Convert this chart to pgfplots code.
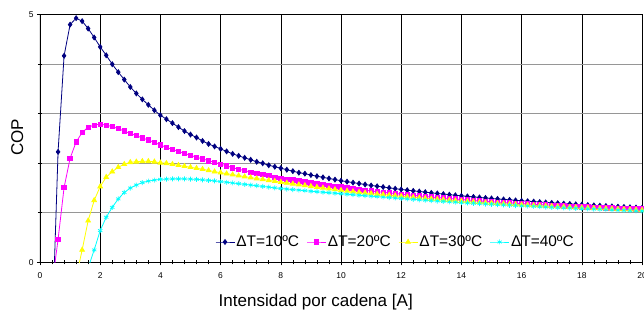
\documentclass[border=0pt]{standalone}
\usepackage{fontspec}
\setmainfont{Liberation Sans}
\usepackage{pgfplots}
\usepackage{pgfplotstable}
\pgfplotsset{compat=1.18}
\definecolor{cNavy}{RGB}{0,0,128}
\definecolor{cMag}{RGB}{255,0,255}
\definecolor{cYel}{RGB}{255,255,0}
\definecolor{cCya}{RGB}{0,255,255}
\definecolor{cGrid}{RGB}{150,150,150}

\pgfplotstableread{
x y
0.4 -1.49
0.6 2.23
0.8 4.17
1.0 4.80
1.2 4.93
1.4 4.87
1.6 4.72
1.8 4.54
2.0 4.35
2.2 4.18
2.4 4.00
2.6 3.84
2.8 3.69
3.0 3.54
3.2 3.41
3.4 3.29
3.6 3.18
3.8 3.07
4.0 2.97
4.2 2.89
4.4 2.81
4.6 2.73
4.8 2.65
5.0 2.58
5.2 2.52
5.4 2.45
5.6 2.39
5.8 2.34
6.0 2.29
6.2 2.24
6.4 2.19
6.6 2.15
6.8 2.11
7.0 2.07
7.2 2.03
7.4 2.00
7.6 1.96
7.8 1.93
8.0 1.90
8.2 1.87
8.4 1.84
8.6 1.81
8.8 1.79
9.0 1.762
9.2 1.739
9.4 1.716
9.6 1.693
9.8 1.670
10.0 1.647
10.2 1.628
10.4 1.609
10.6 1.590
10.8 1.571
11.0 1.552
11.2 1.536
11.4 1.520
11.6 1.504
11.8 1.487
12.0 1.471
12.2 1.457
12.4 1.443
12.6 1.430
12.8 1.416
13.0 1.402
13.2 1.390
13.4 1.378
13.6 1.366
13.8 1.354
14.0 1.342
14.2 1.331
14.4 1.321
14.6 1.310
14.8 1.300
15.0 1.289
15.2 1.280
15.4 1.270
15.6 1.261
15.8 1.251
16.0 1.242
16.2 1.234
16.4 1.226
16.6 1.217
16.8 1.209
17.0 1.201
17.2 1.194
17.4 1.186
17.6 1.179
17.8 1.171
18.0 1.164
18.2 1.157
18.4 1.150
18.6 1.144
18.8 1.137
19.0 1.130
19.2 1.124
19.4 1.118
19.6 1.112
19.8 1.106
20.0 1.100
}\tabA

\pgfplotstableread{
x y
0.4 -0.46
0.6 0.46
0.8 1.51
1.0 2.10
1.2 2.43
1.4 2.62
1.6 2.73
1.8 2.77
2.0 2.79
2.2 2.77
2.4 2.74
2.6 2.70
2.8 2.65
3.0 2.60
3.2 2.56
3.4 2.51
3.6 2.47
3.8 2.42
4.0 2.37
4.2 2.32
4.4 2.28
4.6 2.24
4.8 2.20
5.0 2.16
5.2 2.12
5.4 2.09
5.6 2.05
5.8 2.02
6.0 1.98
6.2 1.95
6.4 1.91
6.6 1.88
6.8 1.85
7.0 1.82
7.2 1.80
7.4 1.77
7.6 1.75
7.8 1.72
8.0 1.70
8.2 1.68
8.4 1.66
8.6 1.64
8.8 1.62
9.0 1.600
9.2 1.584
9.4 1.568
9.6 1.552
9.8 1.536
10.0 1.520
10.2 1.504
10.4 1.488
10.6 1.472
10.8 1.456
11.0 1.440
11.2 1.427
11.4 1.414
11.6 1.402
11.8 1.389
12.0 1.376
12.2 1.364
12.4 1.352
12.6 1.341
12.8 1.329
13.0 1.317
13.2 1.307
13.4 1.297
13.6 1.287
13.8 1.277
14.0 1.267
14.2 1.258
14.4 1.249
14.6 1.240
14.8 1.231
15.0 1.222
15.2 1.215
15.4 1.207
15.6 1.200
15.8 1.192
16.0 1.185
16.2 1.178
16.4 1.172
16.6 1.165
16.8 1.159
17.0 1.152
17.2 1.146
17.4 1.140
17.6 1.134
17.8 1.128
18.0 1.122
18.2 1.117
18.4 1.112
18.6 1.107
18.8 1.102
19.0 1.097
19.2 1.093
19.4 1.088
19.6 1.084
19.8 1.079
20.0 1.075
}\tabB

\pgfplotstableread{
x y
1.2 -0.31
1.4 0.25
1.6 0.84
1.8 1.25
2.0 1.53
2.2 1.72
2.4 1.83
2.6 1.92
2.8 1.98
3.0 2.02
3.2 2.03
3.4 2.04
3.6 2.04
3.8 2.03
4.0 2.01
4.2 2.00
4.4 1.98
4.6 1.96
4.8 1.94
5.0 1.92
5.2 1.90
5.4 1.88
5.6 1.855
5.8 1.83
6.0 1.81
6.2 1.79
6.4 1.77
6.6 1.75
6.8 1.73
7.0 1.71
7.2 1.692
7.4 1.674
7.6 1.656
7.8 1.638
8.0 1.620
8.2 1.603
8.4 1.586
8.6 1.569
8.8 1.552
9.0 1.535
9.2 1.519
9.4 1.503
9.6 1.487
9.8 1.471
10.0 1.455
10.2 1.442
10.4 1.429
10.6 1.416
10.8 1.403
11.0 1.390
11.2 1.379
11.4 1.368
11.6 1.357
11.8 1.346
12.0 1.335
12.2 1.325
12.4 1.314
12.6 1.304
12.8 1.293
13.0 1.283
13.2 1.274
13.4 1.265
13.6 1.255
13.8 1.246
14.0 1.237
14.2 1.229
14.4 1.221
14.6 1.213
14.8 1.205
15.0 1.197
15.2 1.190
15.4 1.183
15.6 1.176
15.8 1.169
16.0 1.162
16.2 1.156
16.4 1.150
16.6 1.143
16.8 1.137
17.0 1.131
17.2 1.125
17.4 1.120
17.6 1.114
17.8 1.109
18.0 1.103
18.2 1.098
18.4 1.093
18.6 1.088
18.8 1.083
19.0 1.078
19.2 1.073
19.4 1.069
19.6 1.064
19.8 1.060
20.0 1.055
}\tabC

\pgfplotstableread{
x y
1.6 -0.11
1.8 0.25
2.0 0.64
2.2 0.91
2.4 1.11
2.6 1.28
2.8 1.41
3.0 1.50
3.2 1.56
3.4 1.61
3.6 1.64
3.8 1.66
4.0 1.675
4.2 1.68
4.4 1.685
4.6 1.685
4.8 1.685
5.0 1.68
5.2 1.675
5.4 1.665
5.6 1.655
5.8 1.645
6.0 1.63
6.2 1.616
6.4 1.602
6.6 1.588
6.8 1.574
7.0 1.560
7.2 1.546
7.4 1.532
7.6 1.518
7.8 1.504
8.0 1.490
8.2 1.479
8.4 1.468
8.6 1.457
8.8 1.446
9.0 1.435
9.2 1.425
9.4 1.415
9.6 1.405
9.8 1.395
10.0 1.385
10.2 1.375
10.4 1.365
10.6 1.355
10.8 1.345
11.0 1.335
11.2 1.326
11.4 1.317
11.6 1.308
11.8 1.299
12.0 1.290
12.2 1.281
12.4 1.272
12.6 1.263
12.8 1.254
13.0 1.245
13.2 1.237
13.4 1.229
13.6 1.221
13.8 1.213
14.0 1.205
14.2 1.198
14.4 1.191
14.6 1.184
14.8 1.177
15.0 1.170
15.2 1.164
15.4 1.158
15.6 1.152
15.8 1.146
16.0 1.140
16.2 1.134
16.4 1.128
16.6 1.122
16.8 1.116
17.0 1.110
17.2 1.105
17.4 1.099
17.6 1.094
17.8 1.088
18.0 1.083
18.2 1.078
18.4 1.073
18.6 1.068
18.8 1.063
19.0 1.058
19.2 1.053
19.4 1.049
19.6 1.044
19.8 1.040
20.0 1.035
}\tabD

\begin{document}
\begin{tikzpicture}
\begin{axis}[
  name=ax, at={(0,0)}, anchor=south west,
  scale only axis, width=602bp, height=247.6bp,
  xmin=0, xmax=20, ymin=0, ymax=5,
  xtick={0,2,...,20}, minor x tick num=4,
  ytick={0,5}, minor ytick={1,2,3,4},
  xmajorgrids=true, yminorgrids=true,
  major grid style={black, line width=0.5bp},
  minor grid style={cGrid, line width=0.9bp},
  tick pos=left, tick align=center,
  major tick length=6bp, minor tick length=4bp,
  every tick/.style={black, line width=0.6bp},
  axis line style={black, line width=0.7bp},
  /pgf/number format/assume math mode=true,
  tick label style={font=\fontsize{8.5}{10}\selectfont},
  xticklabel style={yshift=-3.5bp},
  every axis x label/.style={at={(axis description cs:0.458,-0.1805)}, anchor=base},
  every axis y label/.style={at={(axis description cs:-0.0282,0.505)}, anchor=base, rotate=90},
  label style={font=\fontsize{17.1}{20}\selectfont},
  xlabel={Intensidad por cadena [A]},
  ylabel={COP},
  legend columns=4,
  legend style={draw=none, fill=none, at={(axis cs:11.8,0.41)}, anchor=center,
    font=\fontsize{15.5}{18}\selectfont,
    /tikz/every even column/.append style={column sep=6bp},
    nodes={inner xsep=1.5bp}},
  legend image code/.code={\draw[mark repeat=2,mark phase=2,#1] plot coordinates {(0bp,0bp) (9.5bp,0bp) (19bp,0bp)};},
]
\addplot[cNavy, line width=0.8bp, mark=diamond*, mark size=2.4bp, mark options={solid, fill=cNavy}] table[x=x,y=y] {\tabA};
\addlegendentry{ΔT=10ºC}
\addplot[cMag, line width=0.8bp, mark=square*, mark size=2.2bp, mark options={solid, fill=cMag}] table[x=x,y=y] {\tabB};
\addlegendentry{ΔT=20ºC}
\addplot[cYel, line width=0.8bp, mark=triangle*, mark size=2.7bp, mark options={solid, fill=cYel}] table[x=x,y=y] {\tabC};
\addlegendentry{ΔT=30ºC}
\addplot[cCya, line width=0.8bp, mark=asterisk, mark size=2.5bp, mark options={solid, line width=0.7bp}] table[x=x,y=y] {\tabD};
\addlegendentry{ΔT=40ºC}
\draw[black, line width=1.8bp] (rel axis cs:0,0) -- (rel axis cs:0,1);
\end{axis}
\pgfresetboundingbox
\path (ax.south west) ++(-40bp,-47.7bp) rectangle ([xshift=2bp,yshift=14.7bp]ax.north east);
\end{tikzpicture}
\end{document}
